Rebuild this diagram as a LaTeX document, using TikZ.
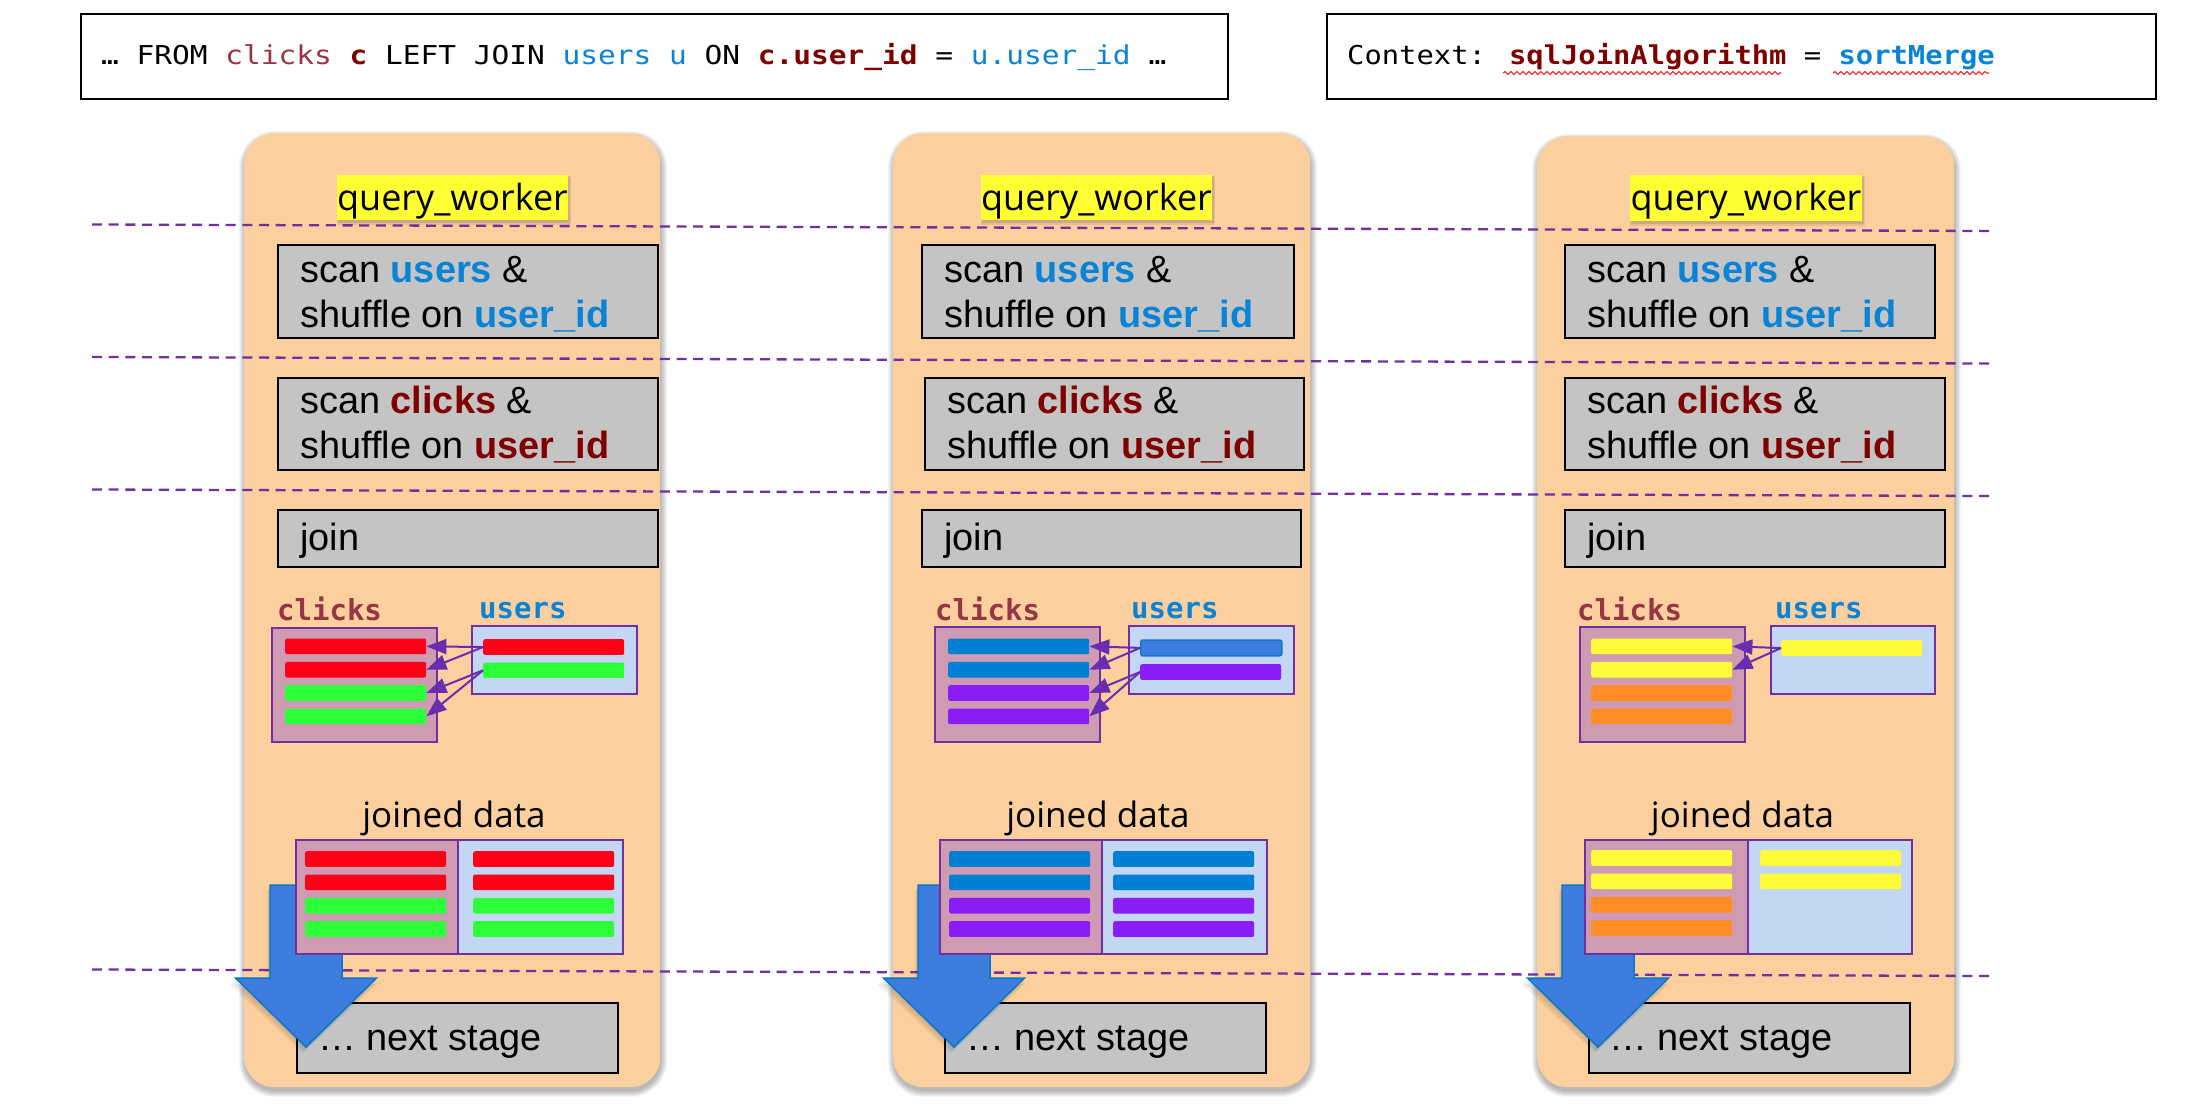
\documentclass[tikz,border=0pt]{standalone}
\usepackage{fontspec}
\usepackage{graphicx}
\setmainfont{Liberation Sans}
\newfontfamily\osans{Open Sans}
\newfontfamily\monof{DejaVu Sans Mono}
\usetikzlibrary{arrows.meta,decorations.pathmorphing,calc}

\definecolor{peach}{HTML}{FBCF9E}
\definecolor{boxgray}{HTML}{C4C4C4}
\definecolor{qyellow}{HTML}{FFFF33}
\definecolor{sepcol}{HTML}{7030A0}
\definecolor{arrowpurple}{HTML}{6A2DB0}
\definecolor{tblborder}{HTML}{7030A0}
\definecolor{clkfill}{HTML}{CE9BB3}
\definecolor{usrfill}{HTML}{C3D6F3}
\definecolor{rowred}{HTML}{FF0018}
\definecolor{rowgreen}{HTML}{2CFF3A}
\definecolor{rowblue}{HTML}{0080D3}
\definecolor{rowpurple}{HTML}{8A1CF5}
\definecolor{rowyellow}{HTML}{FFFB3A}
\definecolor{roworange}{HTML}{FF8C25}
\definecolor{hiblue}{HTML}{3C7DDD}
\definecolor{hiblueedge}{HTML}{1878C8}
\definecolor{bigarrowfill}{HTML}{3C7DDD}
\definecolor{bigarrowedge}{HTML}{0A78C8}
\definecolor{kwblue}{HTML}{0883D5}
\definecolor{kwred}{HTML}{800000}
\definecolor{kwclicks}{HTML}{9C3346}
\definecolor{lblclicks}{HTML}{953545}
\definecolor{squiggle}{HTML}{FF2020}

% one coloured row inside a table
\newcommand\rowbar[4]{\node[rowbox, fill=#4] (#1) at (#2,#3) {};}
% big blue "to next stage" arrow, centred on x = #1
\newcommand\stagearrow[1]{%
  \foreach \s in {2,4,6}{%
    \fill[black, opacity=0.06] (#1-36-\s/2,885+\s) -- (#1+36,885+\s) -- (#1+36,978+\s)
      -- (#1+70.5,978+\s) -- (#1-\s/2,1047+\s) -- (#1-70.5-\s,978+\s) -- (#1-36-\s/2,978+\s) -- cycle;}
  \filldraw[fill=bigarrowfill, draw=bigarrowedge, line width=1.5pt, line join=miter]
    (#1-36,885) -- (#1+36,885) -- (#1+36,978) -- (#1+70.5,978) -- (#1,1047)
    -- (#1-70.5,978) -- (#1-36,978) -- cycle;}

\begin{document}
\begin{tikzpicture}[x=1pt, y=-1pt,
  codebox/.style={draw=black, line width=2pt, fill=white, inner sep=0pt, anchor=north west},
  codetext/.style={font=\monof\fontsize{26}{30}\selectfont, inner sep=0pt, anchor=base west},
  colbg/.style={fill=peach, rounded corners=30pt, inner sep=0pt, anchor=north west},
  sepline/.style={draw=sepcol, line width=2.3pt, dash pattern=on 10pt off 6.7pt},
  qlabel/.style={fill=qyellow, inner sep=0pt, anchor=north west},
  qtext/.style={font=\osans\fontsize{36}{40}\selectfont, inner sep=0pt, anchor=base},
  stepbox/.style={draw=black, line width=2.2pt, fill=boxgray, inner sep=0pt, anchor=north west},
  steptext/.style={font=\fontsize{37.9}{45}\selectfont, inner sep=0pt, anchor=base west},
  tbl/.style={draw=tblborder, line width=2pt, inner sep=0pt, anchor=north west},
  rowbox/.style={inner sep=0pt, anchor=north west, minimum width=141pt, minimum height=15.7pt, rounded corners=2pt},
  tbllabel/.style={font=\monof\bfseries\fontsize{29}{32}\selectfont, inner sep=0pt, anchor=base west},
  joinarrow/.style={draw=arrowpurple, line width=2pt, -{Triangle[length=20pt,width=15pt]}},
  jdtext/.style={font=\osans\fontsize{35}{40}\selectfont, inner sep=0pt, anchor=base},
  wavy/.style={draw=squiggle, line width=1.1pt, decorate, decoration={snake, amplitude=1.4pt, segment length=6pt}}]

\useasboundingbox (0,0) rectangle (2198,1108);
\fill[white] (0,0) rectangle (2198,1108);

% ---------- query text and context ----------
\node[codebox, minimum width=1147pt, minimum height=85pt] (sqlbox) at (80,13) {};
\node[codetext] (sql) at (101,65) {\scalebox{1.134}[1]{…
  FROM \textcolor{kwclicks}{clicks} \textcolor{kwred}{\bfseries c} LEFT JOIN
  \textcolor{kwblue}{users u} ON \textcolor{kwred}{\bfseries c.user\textunderscore id} =
  \textcolor{kwblue}{u.user\textunderscore id} …}};

\node[codebox, minimum width=829pt, minimum height=85pt] (ctxbox) at (1326,13) {};
\node[codetext] (ctx) at (1347,65) {\scalebox{1.108}[1]{Context:
  \textcolor{kwred}{\bfseries sqlJoinAlgorithm} = \textcolor{kwblue}{\bfseries sortMerge}}};
\draw[wavy] ($(ctx.base west)+(156,8)$) -- ($(ctx.base west)+(434,8)$);
\draw[wavy] ($(ctx.base west)+(486,8)$) -- ($(ctx.base west)+(642,8)$);

% ---------- worker columns (soft shadow, then body) ----------
\foreach \l/\t/\r in {244/133/660, 893/133/1310, 1537/136/1954}{
  \foreach \s in {0,...,6}{
    \fill[black, opacity=0.045, rounded corners=30+\s] (\l-\s+1,\t-\s+4) rectangle (\r+\s+1,1087+\s+4);}}
\node[colbg, minimum width=416pt, minimum height=954pt] (w1) at (244,133) {};
\node[colbg, minimum width=417pt, minimum height=954pt] (w2) at (893,133) {};
\node[colbg, minimum width=417pt, minimum height=951pt] (w3) at (1537,136) {};

% ---------- stage separators ----------
\draw[sepline] (92,224.5) -- (1991,231);
\draw[sepline] (92,357) -- (1991,363.5);
\draw[sepline] (92,489.5) -- (1991,496);
\draw[sepline] (92,969.5) -- (1991,976);

% ---------- worker titles ----------
\foreach \l/\r/\b in {337/568/220, 981/1212/220, 1630/1862/221}{
  \fill[black, opacity=0.10] (\l+1,177) rectangle (\r+2,\b+3);
  \fill[black, opacity=0.08] (\l,176) rectangle (\r+3,\b+5);}
\node[qlabel, minimum width=231pt, minimum height=45pt] (q1) at (337,175) {};
\node[qlabel, minimum width=231pt, minimum height=45pt] (q2) at (981,175) {};
\node[qlabel, minimum width=232pt, minimum height=46pt] (q3) at (1630,175) {};
\node[qtext] (q1t) at (452.5,210.7) {query\textunderscore worker};
\node[qtext] (q2t) at (1096.5,210.7) {query\textunderscore worker};
\node[qtext] (q3t) at (1746,210.7) {query\textunderscore worker};

% ---------- stage boxes ----------
% column 1
\node[stepbox, minimum width=380pt, minimum height=93pt] (a1) at (277,244) {};
\node[steptext] (a1t1) at (300,282) {scan \textcolor{kwblue}{\bfseries users} \&};
\node[steptext] (a1t2) at (300,327) {shuffle on \textcolor{kwblue}{\bfseries user\textunderscore id}};
\node[stepbox, minimum width=380pt, minimum height=92pt] (b1) at (277,377) {};
\node[steptext] (b1t1) at (300,413) {scan \textcolor{kwred}{\bfseries clicks} \&};
\node[steptext] (b1t2) at (300,458) {shuffle on \textcolor{kwred}{\bfseries user\textunderscore id}};
\node[stepbox, minimum width=380pt, minimum height=57pt] (j1) at (277,509) {};
\node[steptext] (j1t) at (300,550) {join};
% column 2
\node[stepbox, minimum width=372pt, minimum height=93pt] (a2) at (921,244) {};
\node[steptext] (a2t1) at (944,282) {scan \textcolor{kwblue}{\bfseries users} \&};
\node[steptext] (a2t2) at (944,327) {shuffle on \textcolor{kwblue}{\bfseries user\textunderscore id}};
\node[stepbox, minimum width=379pt, minimum height=92pt] (b2) at (924,377) {};
\node[steptext] (b2t1) at (947,413) {scan \textcolor{kwred}{\bfseries clicks} \&};
\node[steptext] (b2t2) at (947,458) {shuffle on \textcolor{kwred}{\bfseries user\textunderscore id}};
\node[stepbox, minimum width=379pt, minimum height=57pt] (j2) at (921,509) {};
\node[steptext] (j2t) at (944,550) {join};
% column 3
\node[stepbox, minimum width=370pt, minimum height=93pt] (a3) at (1564,244) {};
\node[steptext] (a3t1) at (1587,282) {scan \textcolor{kwblue}{\bfseries users} \&};
\node[steptext] (a3t2) at (1587,327) {shuffle on \textcolor{kwblue}{\bfseries user\textunderscore id}};
\node[stepbox, minimum width=380pt, minimum height=92pt] (b3) at (1564,377) {};
\node[steptext] (b3t1) at (1587,413) {scan \textcolor{kwred}{\bfseries clicks} \&};
\node[steptext] (b3t2) at (1587,458) {shuffle on \textcolor{kwred}{\bfseries user\textunderscore id}};
\node[stepbox, minimum width=380pt, minimum height=57pt] (j3) at (1564,509) {};
\node[steptext] (j3t) at (1587,550) {join};

% ---------- partitions being joined ----------
% column 1: red / green keys
\node[tbllabel, text=lblclicks] (k1l) at (277,620) {clicks};
\node[tbllabel, text=kwblue] (u1l) at (479,618) {users};
\node[tbl, fill=clkfill, minimum width=165pt, minimum height=114pt] (k1) at (271,627) {};
\node[tbl, fill=usrfill, minimum width=165pt, minimum height=68pt] (u1) at (471,625) {};
\rowbar{k1r1}{285}{638.3}{rowred}
\rowbar{k1r2}{285}{661.7}{rowred}
\rowbar{k1r3}{285}{685}{rowgreen}
\rowbar{k1r4}{285}{708.3}{rowgreen}
\rowbar{u1r1}{483}{639}{rowred}
\rowbar{u1r2}{483}{662.3}{rowgreen}
\draw[joinarrow] (u1r1.west) -- (k1r1.east);
\draw[joinarrow] (u1r1.west) -- (k1r2.east);
\draw[joinarrow] (u1r2.west) -- (k1r3.east);
\draw[joinarrow] (u1r2.west) -- (k1r4.east);

% column 2: blue / purple keys
\node[tbllabel, text=lblclicks] (k2l) at (935,620) {clicks};
\node[tbllabel, text=kwblue] (u2l) at (1131,618) {users};
\node[tbl, fill=clkfill, minimum width=165pt, minimum height=115pt] (k2) at (934,626) {};
\node[tbl, fill=usrfill, minimum width=165pt, minimum height=68pt] (u2) at (1128,625) {};
\rowbar{k2r1}{948}{638.3}{rowblue}
\rowbar{k2r2}{948}{661.7}{rowblue}
\rowbar{k2r3}{948}{685}{rowpurple}
\rowbar{k2r4}{948}{708.3}{rowpurple}
\node[rowbox, fill=hiblue, draw=hiblueedge, line width=1.5pt] (u2r1) at (1140,639.3) {};
\rowbar{u2r2}{1140}{664}{rowpurple}
\draw[joinarrow] (u2r1.west) -- (k2r1.east);
\draw[joinarrow] (u2r1.west) -- (k2r2.east);
\draw[joinarrow] (u2r2.west) -- (k2r3.east);
\draw[joinarrow] (u2r2.west) -- (k2r4.east);

% column 3: yellow / orange keys
\node[tbllabel, text=lblclicks] (k3l) at (1577,620) {clicks};
\node[tbllabel, text=kwblue] (u3l) at (1775,618) {users};
\node[tbl, fill=clkfill, minimum width=165pt, minimum height=115pt] (k3) at (1579,626) {};
\node[tbl, fill=usrfill, minimum width=164pt, minimum height=68pt] (u3) at (1770,625) {};
\rowbar{k3r1}{1591}{638.3}{rowyellow}
\rowbar{k3r2}{1591}{661.7}{rowyellow}
\rowbar{k3r3}{1591}{685}{roworange}
\rowbar{k3r4}{1591}{708.3}{roworange}
\rowbar{u3r1}{1781}{640}{rowyellow}
\draw[joinarrow] (u3r1.west) -- (k3r1.east);
\draw[joinarrow] (u3r1.west) -- (k3r2.east);

% ---------- next stage ----------
\node[stepbox, minimum width=321pt, minimum height=70pt] (n1) at (296,1002) {};
\node[steptext] (n1t) at (318,1050) {… next stage};
\node[stepbox, minimum width=321pt, minimum height=70pt] (n2) at (944,1002) {};
\node[steptext] (n2t) at (966,1050) {… next stage};
\node[stepbox, minimum width=321pt, minimum height=70pt] (n3) at (1588,1002) {};
\node[steptext] (n3t) at (1609,1050) {… next stage};

\stagearrow{306}
\stagearrow{954}
\stagearrow{1598}

% ---------- joined data ----------
\node[jdtext] (d1t) at (454,827) {joined data};
\node[tbl, fill=clkfill, minimum width=162pt, minimum height=114pt] (d1l) at (295,839) {};
\node[tbl, fill=usrfill, minimum width=165pt, minimum height=114pt] (d1r) at (457,839) {};
\rowbar{d1l1}{305}{851}{rowred}
\rowbar{d1l2}{305}{874.3}{rowred}
\rowbar{d1l3}{305}{897.7}{rowgreen}
\rowbar{d1l4}{305}{921}{rowgreen}
\rowbar{d1r1}{473}{851}{rowred}
\rowbar{d1r2}{473}{874.3}{rowred}
\rowbar{d1r3}{473}{897.7}{rowgreen}
\rowbar{d1r4}{473}{921}{rowgreen}

\node[jdtext] (d2t) at (1098,827) {joined data};
\node[tbl, fill=clkfill, minimum width=162pt, minimum height=114pt] (d2l) at (939,839) {};
\node[tbl, fill=usrfill, minimum width=165pt, minimum height=114pt] (d2r) at (1101,839) {};
\rowbar{d2l1}{949}{851}{rowblue}
\rowbar{d2l2}{949}{874.3}{rowblue}
\rowbar{d2l3}{949}{897.7}{rowpurple}
\rowbar{d2l4}{949}{921}{rowpurple}
\rowbar{d2r1}{1113}{851}{rowblue}
\rowbar{d2r2}{1113}{874.3}{rowblue}
\rowbar{d2r3}{1113}{897.7}{rowpurple}
\rowbar{d2r4}{1113}{921}{rowpurple}

\node[jdtext] (d3t) at (1742.5,827) {joined data};
\node[tbl, fill=clkfill, minimum width=163pt, minimum height=114pt] (d3l) at (1584,839) {};
\node[tbl, fill=usrfill, minimum width=164pt, minimum height=114pt] (d3r) at (1747,839) {};
\rowbar{d3l1}{1591}{850}{rowyellow}
\rowbar{d3l2}{1591}{873.3}{rowyellow}
\rowbar{d3l3}{1591}{896.7}{roworange}
\rowbar{d3l4}{1591}{920}{roworange}
\rowbar{d3r1}{1760}{850}{rowyellow}
\rowbar{d3r2}{1760}{873.3}{rowyellow}

\end{tikzpicture}
\end{document}
